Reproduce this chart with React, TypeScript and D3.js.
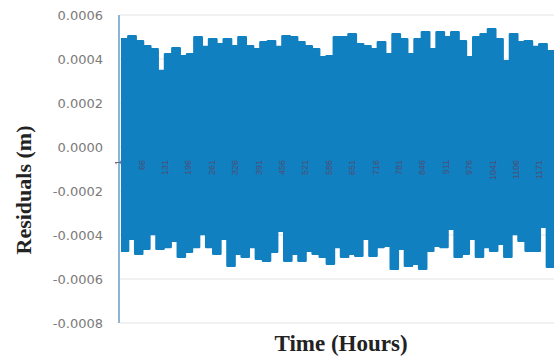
import React from 'react';
import * as d3 from 'd3';

// upper peaks of the residual band, left to right (metres)
const upperPeaks = [
  4.90, 5.03, 4.81, 4.58, 4.44, 3.45, 4.22, 4.49, 4.13, 4.22, 4.99, 4.54, 4.90, 4.67, 4.90,
  4.58, 4.99, 4.58, 4.44, 4.76, 4.81, 4.54, 5.03, 4.99, 4.76, 4.58, 4.44, 4.08, 4.13, 4.99,
  4.99, 5.12, 4.67, 4.58, 4.44, 4.76, 4.22, 5.12, 4.90, 4.22, 4.90, 5.22, 4.44, 5.22, 4.99,
  5.22, 4.81, 4.08, 4.99, 5.12, 5.35, 4.90, 3.90, 5.12, 4.76, 4.81, 4.54, 4.67, 4.35,
].map(v => v * 1e-4);

// lower troughs of the residual band, left to right (metres)
const lowerPeaks = [
  -4.72, -4.17, -4.85, -4.63, -3.95, -4.63, -4.54, -4.26, -4.99, -4.76, -4.54, -3.95, -4.54,
  -4.85, -4.17, -5.40, -4.85, -4.99, -4.54, -5.08, -5.17, -4.76, -3.81, -5.17, -4.85, -5.17,
  -4.72, -4.85, -4.99, -5.31, -4.54, -4.99, -4.85, -4.94, -4.17, -4.94, -4.54, -4.49, -5.53,
  -4.63, -5.40, -5.31, -5.53, -4.72, -4.49, -4.54, -3.72, -4.99, -4.85, -4.17, -4.99, -4.54,
  -4.72, -4.40, -4.99, -3.95, -4.26, -4.72, -4.72, -3.63, -5.44,
].map(v => v * 1e-4);

const hourTicks = [1, 66, 131, 196, 261, 326, 391, 456, 521, 586, 651, 716, 781, 846, 911, 976, 1041, 1106, 1171];
const yTicks = [0.0006, 0.0004, 0.0002, 0, -0.0002, -0.0004, -0.0006, -0.0008];

const W = 554;
const H = 359;
const BLUE = '#1180c1';

export default function App() {
  const y = d3.scaleLinear().domain([-0.0008, 0.0006]).range([323, 15]);
  const x = d3.scaleLinear().domain([1, 1212]).range([118, 554]);

  const xUp = d3.scaleLinear().domain([0, upperPeaks.length]).range([121, W]);
  const xLo = d3.scaleLinear().domain([0, lowerPeaks.length]).range([121, W]);

  const upPts = [...upperPeaks, upperPeaks[upperPeaks.length - 1]];
  const loPts = [...lowerPeaks, lowerPeaks[lowerPeaks.length - 1]];

  const upArea = d3.area<number>()
    .x((_, i) => xUp(i))
    .y0(y(-0.0002))
    .y1(d => y(d))
    .curve(d3.curveStepAfter);
  const loArea = d3.area<number>()
    .x((_, i) => xLo(i))
    .y0(y(0.0002))
    .y1(d => y(d))
    .curve(d3.curveStepAfter);
  const upLine = d3.line<number>().x((_, i) => xUp(i)).y(d => y(d)).curve(d3.curveStepAfter);
  const loLine = d3.line<number>().x((_, i) => xLo(i)).y(d => y(d)).curve(d3.curveStepAfter);

  // hyphen minus like the original, not the unicode minus d3 uses
  const fmt = (v: number) => (Math.abs(v) < 1e-12 ? '0.0000' : d3.format('.4f')(v).replace('\u2212', '-'));

  return (
    <svg width={W} height={H} style={{ position: 'absolute', left: 0, top: 0, background: '#fff' }}>
      {yTicks.map(t => (
        <line key={'g' + t} x1={120} x2={W} y1={y(t)} y2={y(t)} stroke="#e3e3e3" strokeWidth={1} />
      ))}
      <path d={upArea(upPts) || ''} fill={BLUE} />
      <path d={loArea(loPts) || ''} fill={BLUE} />
      <path d={upLine(upPts) || ''} fill="none" stroke={BLUE} strokeWidth={2.5} strokeLinejoin="round" />
      <path d={loLine(loPts) || ''} fill="none" stroke={BLUE} strokeWidth={2.5} strokeLinejoin="round" />
      <line x1={119} x2={119} y1={y(0.0006)} y2={y(-0.0008)} stroke="#8db6d6" strokeWidth={2} />

      {yTicks.map(t => (
        <text key={'t' + t} x={103} y={y(t)} dy="0.35em" textAnchor="end"
          fontFamily="'DejaVu Sans', sans-serif" fontSize={13} fill="#7a7a7a">
          {fmt(t)}
        </text>
      ))}

      {hourTicks.map(h => (
        <text key={'h' + h} transform={`translate(${x(h)},160) rotate(-90)`} textAnchor="end"
          dy="0.35em" fontFamily="'Liberation Sans', Arial, sans-serif" fontSize={9} fill="#4e4e74">
          {h}
        </text>
      ))}

      <text transform="translate(31,190) rotate(-90)" textAnchor="middle"
        fontFamily="'Liberation Serif', 'Times New Roman', serif" fontWeight="bold" fontSize={22} fill="#222">
        Residuals (m)
      </text>
      <text x={341} y={351} textAnchor="middle"
        fontFamily="'Liberation Serif', 'Times New Roman', serif" fontWeight="bold" fontSize={23} fill="#222">
        Time (Hours)
      </text>
    </svg>
  );
}
